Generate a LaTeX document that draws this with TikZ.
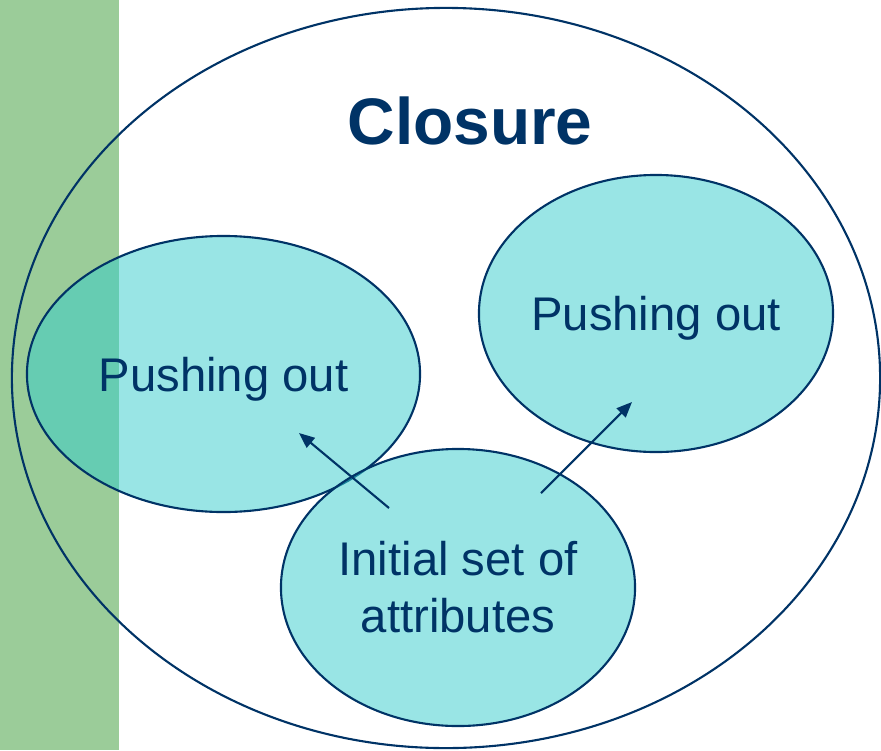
\documentclass[tikz,border=0pt]{standalone}
\usepackage{fontspec}
\setmainfont{Liberation Sans}
\usepackage{tikz}
\usetikzlibrary{arrows.meta, shapes.geometric}
\definecolor{deepnavy}{RGB}{0,51,102}
\definecolor{bandgreen}{RGB}{155,204,153}
\definecolor{tealfill}{RGB}{51,204,204}

\begin{document}
\begin{tikzpicture}[
    x=0.025cm, y=-0.025cm,
    outer/.style={ellipse, draw=deepnavy, line width=1.5pt, inner sep=0pt},
    blob/.style={ellipse, draw=deepnavy, line width=1.5pt, fill=tealfill, fill opacity=0.5,
      text opacity=1, text=deepnavy, inner sep=0pt, align=center,
      font=\fontsize{33.6}{40.4}\selectfont},
    push/.style={blob, text depth=0pt},
    pusharrow/.style={draw=deepnavy, line width=1.5pt, -{Triangle[length=11pt, width=9pt]}}
  ]
    \useasboundingbox (0,0) rectangle (881,750);
    \fill[bandgreen] (0,0) rectangle (119,750);
    \node[outer, minimum width=21.7cm, minimum height=18.5cm] (closure) at (446,378) {};
    \node[text=deepnavy, font=\bfseries\fontsize{46.8}{56}\selectfont, anchor=base] (title) at (470,144) {Closure};
    \node[push, minimum width=9.825cm, minimum height=6.9cm] (left) at (223.5,374) {Pushing out};
    \node[push, minimum width=8.85cm, minimum height=6.925cm] (right) at (656,313.5) {Pushing out};
    \node[blob, minimum width=8.85cm, minimum height=6.925cm] (init) at (458,587.5) {Initial set of\\attributes};
    % arrows start inside the initial set
    \coordinate (initNW) at ([shift={(-69,-79.5)}]init.center);
    \coordinate (initNE) at ([shift={(83,-94.5)}]init.center);
    \coordinate (leftIn) at ([shift={(75.5,59)}]left.center);
    \coordinate (rightIn) at ([shift={(-24,88.5)}]right.center);
    \draw[pusharrow] (initNW) -- (leftIn);
    \draw[pusharrow] (initNE) -- (rightIn);
  \end{tikzpicture}
\end{document}
